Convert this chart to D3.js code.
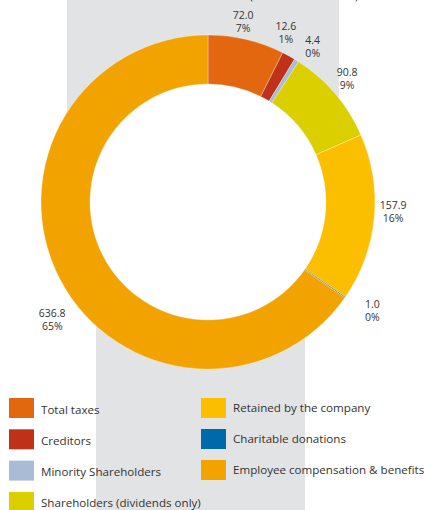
<!DOCTYPE html>
<html>
<head>
<meta charset="utf-8">
<script src="https://cdn.jsdelivr.net/npm/d3@7"></script>
<style>
  body { margin: 0; background: #fff; }
  svg { display: block; font-family: "Open Sans", "Noto Sans", sans-serif; }
</style>
</head>
<body>
<div id="chart"></div>
<script>
// data
var categories = ["Total taxes", "Creditors", "Minority Shareholders", "Shareholders (dividends only)",
  "Retained by the company", "Charitable donations", "Employee compensation & benefits"];
var values = [72.0, 12.6, 4.4, 90.8, 157.9, 1.0, 636.8];
var colors = ["#e3670f", "#c0311a", "#a9bcd6", "#dccf00", "#fbbf00", "#0069a9", "#f2a300"];
var legendOrder = [0, 1, 2, 3, 4, 5, 6];

var width = 424;
var height = 510;
var cx = 208, cy = 202;
var outerR = 167, innerR = 118;
var labelR = 188;

// small hand nudges so labels sit where the original put them
var labelNudge = {
  "Total taxes": [-8, 2],
  "Creditors": [-13, -5],
  "Minority Shareholders": [5, 4],
  "Shareholders (dividends only)": [-4, -2],
  "Retained by the company": [-2, -8],
  "Charitable donations": [10, 1],
  "Employee compensation & benefits": [11, 31]
};

var svg = d3.select("#chart")
  .append("svg")
  .attr("width", width)
  .attr("height", height);

// grey panel behind the chart
svg.append("rect")
  .attr("x", 67).attr("y", 0)
  .attr("width", 272).attr("height", 200)
  .attr("fill", "#e2e3e5");
svg.append("rect")
  .attr("x", 96).attr("y", 200)
  .attr("width", 209).attr("height", 310)
  .attr("fill", "#e2e3e5");

// cropped subtitle, only the bottom of it shows
svg.append("text")
  .attr("x", 304).attr("y", 0)
  .attr("text-anchor", "middle")
  .style("font-size", "11.5px")
  .attr("fill", "#333")
  .text("(in millions of euros)");

var total = d3.sum(values);
var data = categories.map(function(c, i) { return { name: c, value: values[i], color: colors[i] }; });

var pie = d3.pie()
  .sort(null)
  .value(function(d) { return d.value; });
var arcs = pie(data);

var g = svg.append("g")
  .attr("transform", "translate(" + cx + "," + cy + ")");

g.append("circle")
  .attr("r", innerR)
  .attr("fill", "#fff");

var arc = d3.arc()
  .innerRadius(innerR)
  .outerRadius(outerR);

g.selectAll("path.slice")
  .data(arcs)
  .enter().append("path")
  .attr("class", "slice")
  .attr("d", arc)
  .attr("fill", function(d) { return d.data.color; })
  .attr("stroke", "#fff")
  .style("stroke-width", "0.3px");

var labelArc = d3.arc()
  .innerRadius(labelR)
  .outerRadius(labelR);

var labels = g.selectAll("text.lbl")
  .data(arcs)
  .enter().append("text")
  .attr("class", "lbl")
  .attr("text-anchor", "middle")
  .attr("fill", "#333")
  .style("font-size", "10.5px")
  .attr("transform", function(d) {
    var c = labelArc.centroid(d);
    var n = labelNudge[d.data.name] || [0, 0];
    return "translate(" + (c[0] + n[0]) + "," + (c[1] + n[1]) + ")";
  });
labels.append("tspan")
  .attr("x", 0).attr("y", -2.5)
  .text(function(d) { return d3.format(".1f")(d.data.value); });
labels.append("tspan")
  .attr("x", 0).attr("y", 10.5)
  .text(function(d) { return Math.round(d.data.value / total * 100) + "%"; });

// legend, two columns
var legend = svg.append("g");
legendOrder.forEach(function(i, k) {
  var col = k < 4 ? 0 : 1;
  var row = col === 0 ? k : k - 4;
  var x = col === 0 ? 9 : 201;
  var y = 398 + row * (col === 0 ? 31.3 : 31);
  legend.append("rect")
    .attr("x", x).attr("y", y)
    .attr("width", 25).attr("height", 20)
    .attr("fill", colors[i]);
  legend.append("text")
    .attr("x", x + 32)
    .attr("y", y + (col === 0 ? 15.5 : 14))
    .attr("fill", "#333")
    .style("font-size", "11.6px")
    .text(categories[i]);
});
</script>
</body>
</html>
